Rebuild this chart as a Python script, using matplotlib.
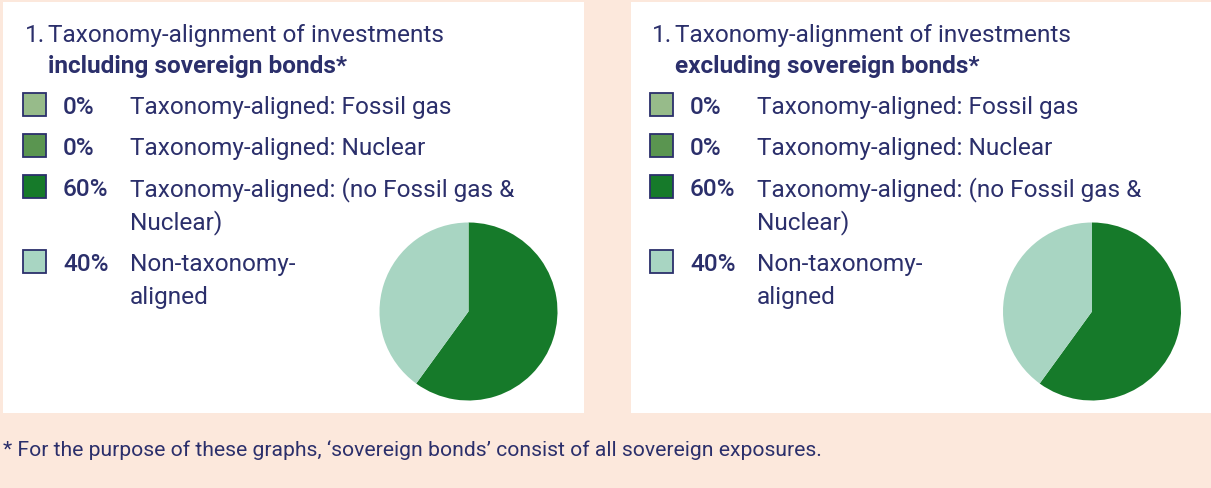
import matplotlib
matplotlib.use("Agg")
import matplotlib.pyplot as plt
from matplotlib.patches import Rectangle

# data
categories = [
    ["Taxonomy-aligned: Fossil gas"],
    ["Taxonomy-aligned: Nuclear"],
    ["Taxonomy-aligned: (no Fossil gas &", "Nuclear)"],
    ["Non-taxonomy-", "aligned"],
]
share_incl = [0, 0, 60, 40]
share_excl = [0, 0, 60, 40]
title_top = "Taxonomy-alignment of investments"
titles_bold = ["including sovereign bonds*", "excluding sovereign bonds*"]
footnote = "* For the purpose of these graphs, \u2018sovereign bonds\u2019 consist of all sovereign exposures."

colors = ["#97bb8a", "#5a9550", "#167a2a", "#a8d5c2"]
navy = "#2b2f6b"
peach = "#fce8dc"

W, H = 1211, 489
plt.rcParams["font.family"] = ["Roboto", "DejaVu Sans"]
fig = plt.figure(figsize=(W / 100, H / 100), dpi=100)
fig.patch.set_facecolor(peach)


def px(x, y):
    # pixel coords (top-left origin) -> figure fraction
    return x / W, 1 - y / H


def panel(x0, px0, pie_x, shares, title_bold, width):
    fig.add_artist(Rectangle(px(px0, 414), width / W, 411 / H,
                             transform=fig.transFigure, facecolor="white",
                             edgecolor="none", zorder=0))
    fs = 17.6
    fig.text(*px(x0 + 25, 42), "1.", fontsize=fs, color=navy, va="baseline")
    fig.text(*px(x0 + 48, 42), title_top, fontsize=fs, color=navy, va="baseline")
    fig.text(*px(x0 + 48, 73), title_bold, fontsize=fs, color=navy, va="baseline",
             fontweight="bold")
    rows = [114, 155, 196, 271]
    for i, (lines, v) in enumerate(zip(categories, shares)):
        y = rows[i]
        fig.add_artist(Rectangle(px(x0 + 23, y + 3), 23 / W, 23 / H,
                                 transform=fig.transFigure, facecolor=colors[i],
                                 edgecolor=navy, linewidth=1.3))
        fig.text(*px(x0 + 63, y), f"{v}%", fontsize=fs, color=navy, va="baseline",
                 fontweight="medium")
        for k, line in enumerate(lines):
            fig.text(*px(x0 + 130, y + 33 * k), line, fontsize=fs, color=navy,
                     va="baseline")
    # pie
    cx, cy, r = pie_x, 312.5, 89
    l, b = px(cx - r, cy + r)
    ax = fig.add_axes([l, b, 2 * r / W, 2 * r / H])
    vals = [shares[2], shares[3]]
    ax.pie(vals, colors=[colors[2], colors[3]], startangle=90, counterclock=False)
    ax.set_xlim(-1, 1)
    ax.set_ylim(-1, 1)
    ax.set_aspect("auto")


panel(0, 3, 468.5, share_incl, titles_bold[0], 581)
panel(627, 631, 1092, share_excl, titles_bold[1], 580)
fig.text(*px(3, 456), footnote, fontsize=15.2, color=navy, va="baseline")

fig.savefig("out.png", dpi=100, facecolor=peach)
